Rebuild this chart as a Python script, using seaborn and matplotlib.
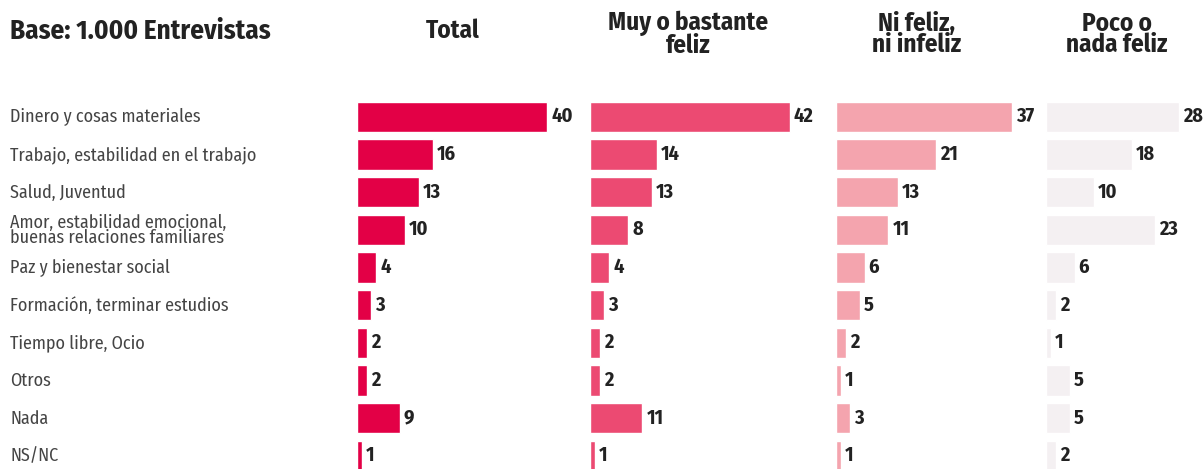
import numpy as np
import pandas as pd
import seaborn as sns
import matplotlib.pyplot as plt

categorias = ['Dinero y cosas materiales',
              'Trabajo, estabilidad en el trabajo',
              'Salud, Juventud',
              'Amor, estabilidad emocional,\nbuenas relaciones familiares',
              'Paz y bienestar social',
              'Formación, terminar estudios',
              'Tiempo libre, Ocio',
              'Otros',
              'Nada',
              'NS/NC']
total = [40, 16, 13, 10, 4, 3, 2, 2, 9, 1]
muy_feliz = [42, 14, 13, 8, 4, 3, 2, 2, 11, 1]
ni_feliz = [37, 21, 13, 11, 6, 5, 2, 1, 3, 1]
poco_feliz = [28, 18, 10, 23, 6, 2, 1, 5, 5, 2]
titulos = ['Total', 'Muy o bastante\nfeliz', 'Ni feliz,\nni infeliz', 'Poco o\nnada feliz']
colores = ['#e30046', '#ec4a72', '#f4a4ae', '#f4f0f2']

sns.set_style('white')
plt.rcParams['font.family'] = ['Fira Sans Condensed', 'DejaVu Sans']

W, H = 1203, 469
fig = plt.figure(figsize=(W / 100, H / 100), dpi=100)

px = 4.75  # pixels per unit
lefts = [357, 590, 836, 1046]
xmax = [48, 50, 42, 33]
top_px = 98
series = [total, muy_feliz, ni_feliz, poco_feliz]
centers = [453, 688, 917, 1117]

for i, vals in enumerate(series):
    ax = fig.add_axes([lefts[i] / W, 0, xmax[i] * px / W, (H - top_px) / H])
    df = pd.DataFrame({'cat': categorias, 'val': vals})
    sns.barplot(data=df, x='val', y='cat', ax=ax, color=colores[i],
                saturation=1, width=0.8, orient='h')
    ax.set_xlim(0, xmax[i])
    ax.set_ylim(9.35, -0.5)
    ax.bar_label(ax.containers[0], padding=3, fontsize=14.5,
                 fontweight='bold', color='#222222')
    ax.axis('off')
    if '\n' in titulos[i]:
        fig.text(centers[i] / W, 1 - 11 / H, titulos[i], ha='center', va='top',
                 fontsize=18, fontweight='bold', color='#222222', linespacing=0.85)
    else:
        fig.text(centers[i] / W, 1 - 31 / H, titulos[i], ha='center', va='center',
                 fontsize=18, fontweight='bold', color='#222222')

# category labels
for j, c in enumerate(categorias):
    fig.text(10 / W, 1 - (117 + j * 37.7) / H, c, ha='left', va='center',
             fontsize=13, color='#444444', linespacing=0.8)

fig.text(10 / W, 1 - 31 / H, 'Base: 1.000 Entrevistas', ha='left', va='center',
         fontsize=19.5, fontweight='bold', color='#222222')

fig.savefig('out.png', dpi=100)
